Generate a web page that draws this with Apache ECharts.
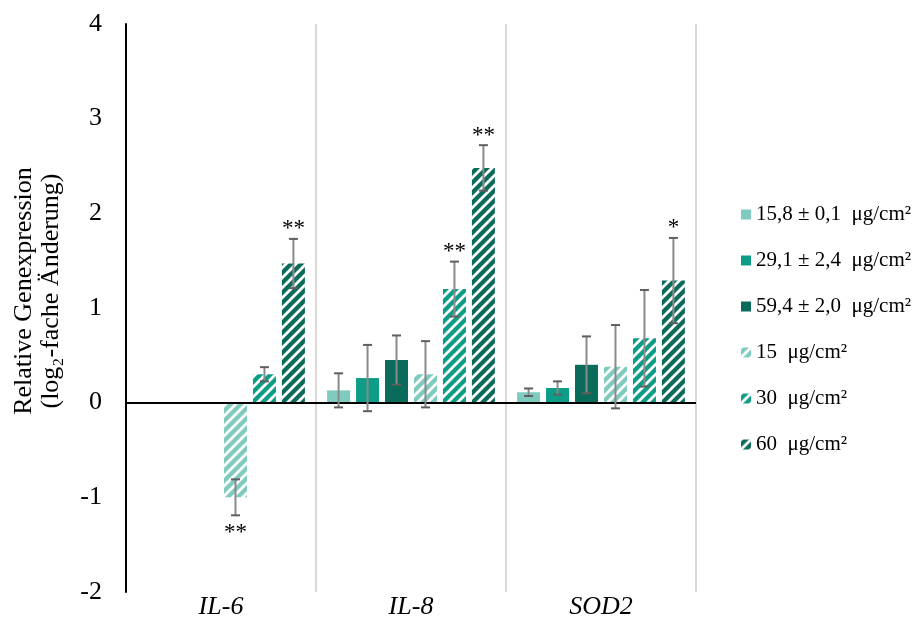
<!DOCTYPE html>
<html>
<head>
<meta charset="utf-8">
<script src="https://cdn.jsdelivr.net/npm/echarts@6/dist/echarts.min.js"></script>
<style>
  html, body { margin: 0; padding: 0; background: #ffffff; }
  #chart { width: 913px; height: 630px; }
</style>
</head>
<body>
<div id="chart"></div>
<script>
// Genes on the category axis
const categories = ['IL-6', 'IL-8', 'SOD2'];

// Legend names of the six exposure groups
const seriesNames = [
  '15,8 ± 0,1  μg/cm²',
  '29,1 ± 2,4  μg/cm²',
  '59,4 ± 2,0  μg/cm²',
  '15  μg/cm²',
  '30  μg/cm²',
  '60  μg/cm²'
];

// Mean log2 fold change per gene (null = not measured)
const dose15_8 = [null, 0.13, 0.11];
const dose29_1 = [null, 0.26, 0.155];
const dose59_4 = [null, 0.45, 0.40];
const dose15 = [-1.00, 0.30, 0.38];
const dose30 = [0.30, 1.20, 0.68];
const dose60 = [1.47, 2.48, 1.29];

// Standard deviations
const sd15_8 = [null, 0.18, 0.04];
const sd29_1 = [null, 0.35, 0.07];
const sd59_4 = [null, 0.26, 0.30];
const sd15 = [0.19, 0.35, 0.44];
const sd30 = [0.075, 0.29, 0.51];
const sd60 = [0.26, 0.24, 0.45];

// Significance marks
const sig15_8 = ['', '', ''];
const sig29_1 = ['', '', ''];
const sig59_4 = ['', '', ''];
const sig15 = ['**', '', ''];
const sig30 = ['', '**', ''];
const sig60 = ['**', '**', '*'];

// Y axis ticks
const yMin = -2, yMax = 4, yStep = 1;

const values = [dose15_8, dose29_1, dose59_4, dose15, dose30, dose60];
const sds = [sd15_8, sd29_1, sd59_4, sd15, sd30, sd60];
const sigs = [sig15_8, sig29_1, sig59_4, sig15, sig30, sig60];

const LIGHT = '#80cbbf', MID = '#0d9c86', DARK = '#0a6b5a';

function hatch(base) {
  const c = document.createElement('canvas');
  c.width = 10; c.height = 10;
  const ctx = c.getContext('2d');
  ctx.fillStyle = base;
  ctx.fillRect(0, 0, 10, 10);
  ctx.strokeStyle = '#ffffff';
  ctx.lineWidth = 2.8;
  ctx.beginPath();
  ctx.moveTo(-2, 12); ctx.lineTo(12, -2);
  ctx.moveTo(-2, 2); ctx.lineTo(2, -2);
  ctx.moveTo(8, 12); ctx.lineTo(12, 8);
  ctx.stroke();
  return { image: c, repeat: 'repeat' };
}

const fills = [LIGHT, MID, DARK, hatch(LIGHT), hatch(MID), hatch(DARK)];

const BAR_W = 0.121;   // bar width as share of the category band
const BAR_GAP = 0.26;  // gap between bars as share of bar width

const SERIF = '"Liberation Serif", "Times New Roman", serif';

const barSeries = values.map((vals, i) => ({
  name: seriesNames[i],
  type: 'bar',
  data: vals,
  barWidth: (BAR_W * 100) + '%',
  barGap: (BAR_GAP * 100) + '%',
  itemStyle: { color: fills[i] },
  z: 2
}));

// zero line
barSeries[0].markLine = {
  silent: true,
  symbol: 'none',
  label: { show: false },
  lineStyle: { color: '#000000', width: 2, type: 'solid' },
  data: [{ yAxis: 0 }],
  z: 5
};

const errData = [];
values.forEach((vals, s) => {
  vals.forEach((v, c) => {
    if (v !== null) errData.push([c, s, v, sds[s][c]]);
  });
});

function renderErr(params, api) {
  const cat = api.value(0), s = api.value(1), v = api.value(2), sd = api.value(3);
  const band = api.size([1, 0])[0];
  const w = band * BAR_W, g = w * BAR_GAP;
  const total = 6 * w + 5 * g;
  const cx = api.coord([cat, 0])[0] - total / 2 + w / 2 + s * (w + g);
  const yt = api.coord([cat, v + sd])[1];
  const yb = api.coord([cat, v - sd])[1];
  const cap = 4.5;
  const st = { stroke: '#5f5f5f', lineWidth: 2 };
  const children = [
    { type: 'line', shape: { x1: cx, y1: yt, x2: cx, y2: yb }, style: { stroke: '#8a8a8a', lineWidth: 2 } },
    { type: 'line', shape: { x1: cx - cap, y1: yt, x2: cx + cap, y2: yt }, style: st },
    { type: 'line', shape: { x1: cx - cap, y1: yb, x2: cx + cap, y2: yb }, style: st }
  ];
  const mark = sigs[s][cat];
  if (mark) {
    const up = v >= 0;
    children.push({
      type: 'text',
      x: cx,
      y: up ? yt + 2 : yb + 6,
      style: {
        text: mark,
        font: '23px ' + SERIF,
        fill: '#000000',
        align: 'center',
        verticalAlign: up ? 'bottom' : 'top'
      }
    });
  }
  return { type: 'group', children };
}

const chart = echarts.init(document.getElementById('chart'), null, { renderer: 'canvas' });

chart.setOption({
  animation: false,
  backgroundColor: '#ffffff',
  grid: { left: 126, right: 217, top: 24, bottom: 38 },
  legend: {
    orient: 'vertical',
    left: 736,
    top: 199,
    itemWidth: 10,
    itemHeight: 10,
    itemGap: 25,
    icon: 'rect',
    data: seriesNames,
    textStyle: { fontFamily: SERIF, fontSize: 21, color: '#000000' }
  },
  xAxis: {
    type: 'category',
    data: categories,
    axisLine: { show: false, onZero: false },
    axisTick: { show: false },
    splitLine: { show: true, lineStyle: { color: '#d9d9d9', width: 2 } },
    axisLabel: {
      fontFamily: SERIF,
      fontStyle: 'italic',
      fontSize: 26,
      color: '#000000',
      margin: 2
    }
  },
  yAxis: {
    type: 'value',
    min: yMin,
    max: yMax,
    interval: yStep,
    axisLine: { show: true, lineStyle: { color: '#000000', width: 2 } },
    axisTick: { show: false },
    splitLine: { show: false },
    axisLabel: {
      fontFamily: SERIF,
      fontSize: 26,
      color: '#000000',
      margin: 24
    }
  },
  graphic: [{
    type: 'text',
    x: 38,
    y: 291,
    rotation: Math.PI / 2,
    style: {
      text: 'Relative Genexpression\n(log₂-fache Änderung)',
      font: '26px ' + SERIF,
      fill: '#000000',
      align: 'center',
      verticalAlign: 'middle',
      lineHeight: 27
    }
  }],
  series: barSeries.concat([{
    type: 'custom',
    name: 'err',
    renderItem: renderErr,
    data: errData,
    encode: { x: 0, y: 2 },
    z: 10,
    silent: true
  }])
});
</script>
</body>
</html>
